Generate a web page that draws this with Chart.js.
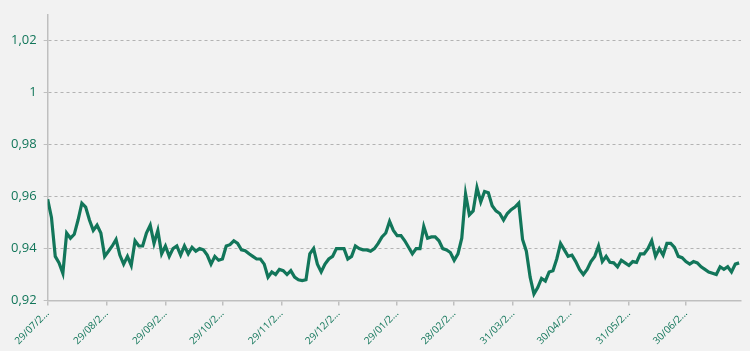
<!DOCTYPE html>
<html>
<head>
<meta charset="utf-8">
<script src="https://cdn.jsdelivr.net/npm/chart.js@4"></script>
<style>
    body { margin: 0; background: #f2f2f2; }
    #grafico { display: block; }
</style>
</head>
<body>
<canvas id="grafico" width="750" height="351"></canvas>
<script>
// dias desde 29/07, un valor cada 2 dias
const paso = 2;
const diaFinal = 365;
const valores = [
    0.959, 0.952, 0.937, 0.9345, 0.9305, 0.946, 0.944, 0.9455, 0.951, 0.9575,
    0.956, 0.951, 0.947, 0.949, 0.946, 0.937, 0.939, 0.941, 0.9435, 0.9375,
    0.934, 0.937, 0.9335, 0.943, 0.941, 0.941, 0.946, 0.949, 0.942, 0.947,
    0.938, 0.941, 0.937, 0.940, 0.941, 0.9375, 0.941, 0.938, 0.9405, 0.939,
    0.940, 0.9395, 0.9375, 0.934, 0.937, 0.9355, 0.936, 0.941, 0.9415, 0.943,
    0.942, 0.9395, 0.9392, 0.938, 0.937, 0.936, 0.936, 0.934, 0.929, 0.931,
    0.930, 0.932, 0.9315, 0.930, 0.9315, 0.929, 0.928, 0.9277, 0.928, 0.938,
    0.940, 0.934, 0.931, 0.934, 0.936, 0.937, 0.940, 0.940, 0.940, 0.936,
    0.937, 0.941, 0.940, 0.9395, 0.9395, 0.939, 0.940, 0.942, 0.9445, 0.946,
    0.9505, 0.947, 0.945, 0.945, 0.943, 0.9405, 0.938, 0.940, 0.940, 0.9485,
    0.944, 0.9445, 0.9445, 0.943, 0.940, 0.9395, 0.9385, 0.9355, 0.938, 0.944,
    0.961, 0.953, 0.9545, 0.9635, 0.958, 0.962, 0.9615, 0.9565, 0.9545, 0.9535,
    0.951, 0.9535, 0.955, 0.956, 0.9575, 0.9435, 0.939, 0.929, 0.9225, 0.925,
    0.9285, 0.9275, 0.931, 0.9315, 0.936, 0.942, 0.9395, 0.937, 0.9375, 0.935,
    0.932, 0.930, 0.932, 0.935, 0.937, 0.941, 0.935, 0.937, 0.9347, 0.9345,
    0.933, 0.9355, 0.9345, 0.9335, 0.935, 0.9347, 0.938, 0.938, 0.940, 0.943,
    0.937, 0.940, 0.9375, 0.942, 0.942, 0.9405, 0.937, 0.9365, 0.935, 0.934,
    0.935, 0.9345, 0.933, 0.932, 0.931, 0.9305, 0.930, 0.933, 0.932, 0.933,
    0.931, 0.934, 0.9345
];
const diasTicks = [0, 31, 62, 92, 123, 153, 184, 214, 245, 275, 306, 336];
const etiquetas = ['29/07/2...', '29/08/2...', '29/09/2...', '29/10/2...', '29/11/2...', '29/12/2...',
    '29/01/2...', '28/02/2...', '31/03/2...', '30/04/2...', '31/05/2...', '30/06/2...'];
const ticksY = [0.92, 0.94, 0.96, 0.98, 1, 1.02];

const verde = '#12765a';
const gris = '#bfbfbf';

let puntos = [];
for (let i = 0; i < valores.length; i++) {
    puntos.push({ x: i * paso, y: valores[i] });
}

var ctx = document.getElementById('grafico');
var myChart = new Chart(ctx, {
    type: 'line',
    data: {
        datasets: [{
            data: puntos,
            borderColor: verde,
            borderWidth: 3.2,
            pointRadius: 0,
            tension: 0,
            fill: false
        }]
    },
    options: {
        responsive: false,
        animation: false,
        layout: { padding: { top: 9, right: 9, left: 4, bottom: 2 } },
        plugins: {
            legend: { display: false },
            tooltip: { enabled: false }
        },
        scales: {
            x: {
                type: 'linear',
                min: 0,
                max: diaFinal,
                afterBuildTicks: function (axis) {
                    axis.ticks = diasTicks.map(function (d) { return { value: d }; });
                },
                ticks: {
                    autoSkip: false,
                    maxRotation: 45,
                    minRotation: 45,
                    padding: 2,
                    color: verde,
                    font: { family: 'Open Sans', size: 10 },
                    callback: function (v, i) { return etiquetas[i]; }
                },
                grid: {
                    drawOnChartArea: false,
                    tickLength: 5,
                    color: gris,
                    lineWidth: 1.5
                },
                border: { color: gris, width: 1.5 }
            },
            y: {
                min: 0.92,
                max: 1.03,
                afterBuildTicks: function (axis) {
                    axis.ticks = ticksY.map(function (v) { return { value: v }; });
                },
                ticks: {
                    padding: 7,
                    color: verde,
                    font: { family: 'Open Sans', size: 13 },
                    callback: function (v) { return String(v).replace('.', ','); }
                },
                grid: {
                    color: '#b3b3b3',
                    lineWidth: 1,
                    tickLength: 4,
                    tickColor: gris,
                    tickBorderDash: []
                },
                border: { color: gris, width: 1.5, dash: [3, 3] }
            }
        }
    }
});
</script>
</body>
</html>
